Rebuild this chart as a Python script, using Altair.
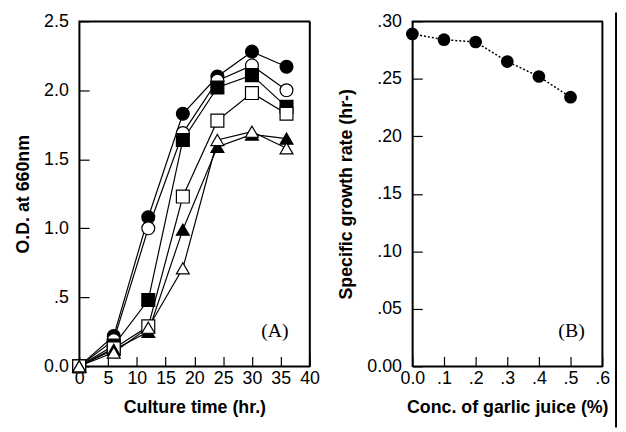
import altair as alt
import pandas as pd

# ---------------- data ----------------
time_hr = [0, 6, 12, 18, 24, 30, 36]
series_names = ["filled circle", "open circle", "filled square",
                "open square", "filled triangle", "open triangle"]
od_filled_circle = [0.0, 0.22, 1.08, 1.83, 2.10, 2.28, 2.17]
od_open_circle = [0.0, 0.19, 1.00, 1.69, 2.07, 2.18, 2.00]
od_filled_square = [0.0, 0.15, 0.48, 1.64, 2.02, 2.11, 1.88]
od_open_square = [0.0, 0.13, 0.29, 1.23, 1.78, 1.98, 1.83]
od_filled_triangle = [0.0, 0.12, 0.25, 0.99, 1.59, 1.68, 1.65]
od_open_triangle = [0.0, 0.10, 0.28, 0.71, 1.64, 1.70, 1.58]

garlic_conc = [0.0, 0.1, 0.2, 0.3, 0.4, 0.5]
growth_rate = [0.289, 0.284, 0.282, 0.265, 0.252, 0.234]

xa_ticks = [0, 5, 10, 15, 20, 25, 30, 35, 40]
ya_ticks = [0.0, 0.5, 1.0, 1.5, 2.0, 2.5]
xb_ticks = [0.0, 0.1, 0.2, 0.3, 0.4, 0.5, 0.6]
yb_ticks = [0.0, 0.05, 0.10, 0.15, 0.20, 0.25, 0.30]

# ---------------- tables ----------------
all_od = [od_filled_circle, od_open_circle, od_filled_square,
          od_open_square, od_filled_triangle, od_open_triangle]
rows = []
for name, vals in zip(series_names, all_od):
    for t, v in zip(time_hr, vals):
        rows.append({"series": name, "time": t, "od": v})
df_a = pd.DataFrame(rows)
df_b = pd.DataFrame({"conc": garlic_conc, "rate": growth_rate})

WA, HA = 233, 349
WB, HB = 192, 349
FONT = "Liberation Sans"
INWARD = alt.ExprRef("-10")

shape_scale = alt.Scale(domain=series_names,
                        range=["circle", "circle", "square", "square",
                               "triangle-up", "triangle-up"])
fill_scale = alt.Scale(domain=series_names,
                       range=["black", "white", "black", "white", "black", "white"])
size_scale = alt.Scale(domain=series_names,
                       range=[170, 170, 130, 130, 170, 170])

xa_scale = alt.Scale(domain=[0, 40], nice=False, zero=False)
ya_scale = alt.Scale(domain=[0, 2.5], nice=False)
xb_scale = alt.Scale(domain=[0, 0.6], nice=False, zero=False)
yb_scale = alt.Scale(domain=[0, 0.30], nice=False)

axis_common = dict(ticks=True, tickSize=INWARD, tickColor="black",
                   tickWidth=1.2, domain=True, domainColor="black",
                   domainWidth=1.5, grid=False, labelFlush=False,
                   labelOverlap=False, labelFont=FONT, labelFontSize=18,
                   labelColor="black", titleFont=FONT, titleFontSize=18,
                   titleFontWeight="bold", titleColor="black")
border_common = dict(labels=False, ticks=False, domain=True,
                     domainColor="black", domainWidth=1.5, grid=False,
                     title=None)

xa_axis = alt.Axis(values=xa_ticks, title="Culture time (hr.)",
                   labelPadding=13, titlePadding=12, format="d", **axis_common)
ya_axis = alt.Axis(values=ya_ticks, title="O.D. at 660nm",
                   labelPadding=21, titlePadding=11,
                   labelExpr="datum.value == 0.5 ? '.5' : format(datum.value, '.1f')",
                   **axis_common)
xb_axis = alt.Axis(values=xb_ticks, title="Conc. of garlic juice (%)",
                   labelPadding=13, titlePadding=12,
                   labelExpr="datum.value == 0 ? '0.0' : replace(format(datum.value, '.1f'), '0.', '.')",
                   **axis_common)
yb_axis = alt.Axis(values=yb_ticks, title="Specific growth rate (hr-)",
                   labelPadding=21, titlePadding=12,
                   labelExpr="datum.value == 0 ? '0.00' : replace(format(datum.value, '.2f'), '0.', '.')",
                   **axis_common)
top_axis = alt.Axis(orient="top", **border_common)
right_axis = alt.Axis(orient="right", **border_common)

# ---------------- panel A ----------------
base_a = alt.Chart(df_a)
lines_a = base_a.mark_line(color="black", strokeWidth=1.2).encode(
    x=alt.X("time:Q", scale=xa_scale, axis=xa_axis),
    y=alt.Y("od:Q", scale=ya_scale, axis=ya_axis),
    detail="series:N",
)
points_a = base_a.mark_point(stroke="black", strokeWidth=1.2, opacity=1,
                             filled=False).encode(
    x=alt.X("time:Q", scale=xa_scale, axis=top_axis),
    y=alt.Y("od:Q", scale=ya_scale, axis=right_axis),
    shape=alt.Shape("series:N", scale=shape_scale, legend=None),
    fill=alt.Fill("series:N", scale=fill_scale, legend=None),
    size=alt.Size("series:N", scale=size_scale, legend=None),
)
label_a = alt.Chart(pd.DataFrame({"lab": ["(A)"]})).mark_text(
    font="Liberation Serif", fontSize=20, color="black",
    align="center", baseline="middle").encode(
    text="lab:N", x=alt.value(198), y=alt.value(313))

panel_a = alt.layer(lines_a, points_a, label_a).resolve_axis(
    x="independent", y="independent").properties(width=WA, height=HA)

# ---------------- panel B ----------------
base_b = alt.Chart(df_b)
line_b = base_b.mark_line(color="black", strokeWidth=1.5,
                          strokeDash=[2, 2]).encode(
    x=alt.X("conc:Q", scale=xb_scale, axis=xb_axis),
    y=alt.Y("rate:Q", scale=yb_scale, axis=yb_axis),
)
points_b = base_b.mark_circle(color="black", size=165, opacity=1).encode(
    x=alt.X("conc:Q", scale=xb_scale, axis=top_axis),
    y=alt.Y("rate:Q", scale=yb_scale, axis=right_axis),
)
label_b = alt.Chart(pd.DataFrame({"lab": ["(B)"]})).mark_text(
    font="Liberation Serif", fontSize=20, color="black",
    align="center", baseline="middle").encode(
    text="lab:N", x=alt.value(161), y=alt.value(313))
edge_b = alt.Chart(pd.DataFrame({"e": [1]})).mark_rule(
    color="black", strokeWidth=2).encode(
    x=alt.value(WB + 14), y=alt.value(-9), y2=alt.value(HB + 62))

panel_b = alt.layer(line_b, points_b, label_b, edge_b).resolve_axis(
    x="independent", y="independent").properties(width=WB, height=HB)

chart = alt.hconcat(panel_a, panel_b, spacing=16).properties(
    padding={"left": 6, "top": 0, "right": 0, "bottom": 0}
).configure(background="white").configure_view(
    stroke="black", strokeWidth=1.5)

chart.save("out.html", embed_options={"renderer": "svg", "actions": False})
